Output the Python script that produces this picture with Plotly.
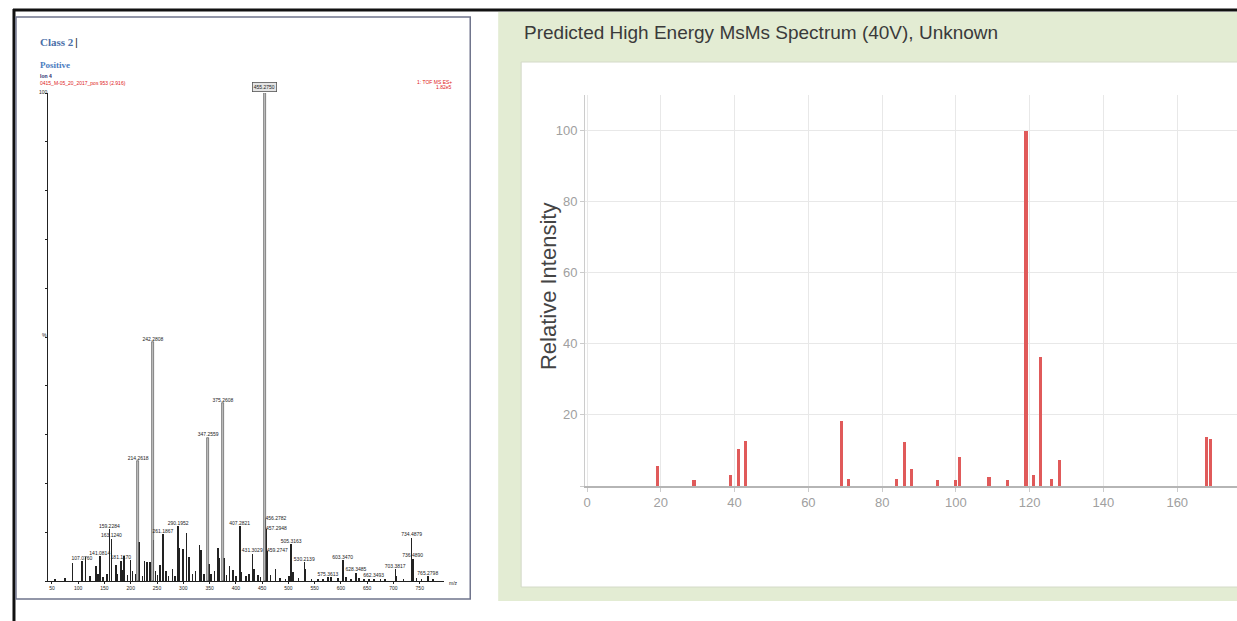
import plotly.graph_objects as go

W, H = 1237, 621


def fx(px):
    return px / W


def fy(py):
    return 1 - py / H


# ---------------- Left panel: measured spectrum (Class 2, Positive) ----------------
obs_label_mz = [107.08, 141.08, 159.23, 163.12, 181.12, 214.26, 242.28, 261.19, 290.20,
                347.26, 375.26, 407.28, 431.30, 455.28, 456.28, 457.29, 459.27, 505.32,
                530.21, 575.36, 603.35, 628.35, 662.35, 703.38, 734.49, 736.49, 765.28]
obs_label_int = [4.1, 5.1, 10.6, 8.7, 4.2, 24.6, 49.0, 9.6, 11.3,
                 29.4, 36.5, 11.3, 5.6, 100.0, 12.8, 10.7, 6.1, 7.5,
                 3.8, 0.8, 4.3, 1.7, 0.5, 2.5, 8.9, 4.6, 1.0]
obs_label_text = ["107.0760", "141.0814", "159.2284", "163.1240", "181.1170", "214.2618",
                  "242.2808", "261.1867", "290.1952", "347.2559", "375.2608", "407.2821",
                  "431.3029", "455.2750", "456.2782", "457.2948", "459.2747", "505.3163",
                  "530.2139", "575.3613", "603.3470", "628.3485", "662.3493", "703.3817",
                  "734.4879", "736.4890", "765.2798"]

obs_mz = [56, 75, 89, 114, 122, 134, 137.5, 147, 155, 172, 175, 184, 187.5, 194, 199, 203,
          209, 215.3, 222, 226, 231, 236, 243.3, 247, 251, 256, 267, 272, 279, 284, 292.5,
          299, 306, 311, 317.5, 323, 331, 334, 339, 349, 353, 359, 366, 369, 377, 382.5,
          387.5, 394, 400, 411, 419, 425, 434, 442.5, 447, 466, 475, 484, 494, 501, 509,
          519, 532, 544, 556, 566, 581, 594, 609, 619, 634, 644, 653, 675, 684, 706, 719,
          744, 753, 775]
obs_int = [0.3, 0.7, 3.6, 5.0, 1.0, 3.0, 1.5, 0.8, 1.5, 3.3, 1.5, 2.2, 5.1, 1.2, 4.3, 2.0,
           1.5, 8.0, 1.0, 4.0, 3.9, 3.8, 8.4, 2.0, 1.2, 3.3, 2.0, 1.0, 2.4, 1.0, 6.8,
           6.5, 9.8, 5.0, 1.5, 2.0, 7.4, 6.4, 1.5, 3.5, 1.5, 2.0, 6.7, 4.8, 4.8, 1.2,
           3.0, 2.3, 1.0, 1.8, 1.0, 1.5, 2.5, 1.2, 0.8, 1.2, 2.5, 0.7, 0.5, 1.0, 1.8,
           0.6, 2.5, 0.5, 0.4, 0.4, 0.9, 0.6, 0.9, 0.4, 0.6, 0.3, 0.5, 0.4, 0.3, 1.1, 0.4,
           0.6, 0.4, 0.3]

obs_xticks = [50, 100, 150, 200, 250, 300, 350, 400, 450, 500, 550, 600, 650, 700, 750]

# ---------------- Right panel: predicted MsMs spectrum ----------------
pred_mz = [19, 29, 39, 41, 43, 69, 71, 84, 86, 88, 95, 100, 101, 109, 114, 119, 121, 123,
           126, 128, 168, 169]
pred_int = [5.6, 1.7, 3.0, 10.5, 12.6, 18.4, 2.0, 1.9, 12.5, 4.9, 1.7, 1.7, 8.2, 2.5, 1.7,
            100.0, 3.0, 36.2, 2.0, 7.2, 13.8, 13.1]

pred_xticks = [0, 20, 40, 60, 80, 100, 120, 140, 160]
pred_yticks = [0, 20, 40, 60, 80, 100]
pred_yticktext = ["", "20", "40", "60", "80", "100"]

SANS = "Arial, Liberation Sans, sans-serif"

fig = go.Figure()

# Left: all small peaks + labelled peaks as thin sticks
minor_x = obs_mz + [m for m, v in zip(obs_label_mz, obs_label_int) if v < 20]
minor_y = obs_int + [v for v in obs_label_int if v < 20]
fig.add_trace(go.Bar(x=minor_x, y=minor_y, width=1.1, marker=dict(color="#222222", line=dict(width=0)),
                     xaxis="x", yaxis="y", showlegend=False, hoverinfo="skip"))
major_x = [m for m, v in zip(obs_label_mz, obs_label_int) if v >= 20]
major_y = [v for v in obs_label_int if v >= 20]
fig.add_trace(go.Bar(x=major_x, y=major_y, width=4.0,
                     marker=dict(color="#c4c4c4", line=dict(color="#444444", width=0.6)),
                     xaxis="x", yaxis="y", showlegend=False, hoverinfo="skip"))

base_idx = obs_label_int.index(max(obs_label_int))
lab_x, lab_y, lab_t, lab_pos = [], [], [], []
for i, (m, v, t) in enumerate(zip(obs_label_mz, obs_label_int, obs_label_text)):
    if i == base_idx:
        continue
    lab_x.append(m)
    lab_y.append(v)
    lab_t.append(t)
    near_base = abs(m - obs_label_mz[base_idx]) < 6
    lab_pos.append("middle right" if near_base else "top center")
fig.add_trace(go.Scatter(x=lab_x, y=lab_y, mode="text", text=lab_t, textposition=lab_pos,
                         textfont=dict(size=5, color="#222222", family="Arial"),
                         xaxis="x", yaxis="y", showlegend=False, hoverinfo="skip"))

# Right: predicted sticks
fig.add_trace(go.Bar(x=pred_mz, y=pred_int, width=0.85, marker=dict(color="#e05a5a", line=dict(width=0)),
                     xaxis="x2", yaxis="y2", showlegend=False, hoverinfo="skip"))

shapes = []
# outer black frame (top and left)
shapes.append(dict(type="line", xref="paper", yref="paper", x0=fx(11), x1=1, y0=fy(10), y1=fy(10),
                   line=dict(color="#111111", width=3), layer="below"))
shapes.append(dict(type="line", xref="paper", yref="paper", x0=fx(12), x1=fx(12), y0=fy(9), y1=0,
                   line=dict(color="#111111", width=3), layer="below"))
# left panel frame
shapes.append(dict(type="rect", xref="paper", yref="paper", x0=fx(14), x1=fx(469), y0=fy(599), y1=fy(17),
                   line=dict(color="#6f748c", width=1.5), fillcolor="white", layer="below"))
# green panel
shapes.append(dict(type="rect", xref="paper", yref="paper", x0=fx(497), x1=1.01, y0=fy(601), y1=fy(12),
                   line=dict(width=0), fillcolor="#e3ecd3", layer="below"))
shapes.append(dict(type="rect", xref="paper", yref="paper", x0=fx(520), x1=1.01, y0=fy(587), y1=fy(62),
                   line=dict(color="#d4dac8", width=1), fillcolor="white", layer="below"))

annotations = []
# left header texts
annotations.append(dict(text="<b>Class 2</b>", x=fx(36), y=fy(42), xref="paper", yref="paper",
                        xanchor="left", yanchor="middle", showarrow=False,
                        font=dict(family="Liberation Serif, DejaVu Serif, serif", size=11, color="#4a6fa8")))
annotations.append(dict(text="|", x=fx(71), y=fy(42), xref="paper", yref="paper",
                        xanchor="left", yanchor="middle", showarrow=False,
                        font=dict(family="Arial", size=11, color="#333333")))
annotations.append(dict(text="<b>Positive</b>", x=fx(36), y=fy(65), xref="paper", yref="paper",
                        xanchor="left", yanchor="middle", showarrow=False,
                        font=dict(family="Liberation Serif, DejaVu Serif, serif", size=9, color="#4a7cc0")))
annotations.append(dict(text="<b>Ion 4</b>", x=fx(36), y=fy(76), xref="paper", yref="paper",
                        xanchor="left", yanchor="middle", showarrow=False,
                        font=dict(family="Arial", size=5, color="#1f2a6e")))
annotations.append(dict(text="0415_M-05_20_2017_pos 953 (2.916)", x=fx(36), y=fy(82.5), xref="paper",
                        yref="paper", xanchor="left", yanchor="middle", showarrow=False,
                        font=dict(family="Arial", size=5, color="#e02020")))
annotations.append(dict(text="1: TOF MS ES+", x=fx(453), y=fy(81.5), xref="paper", yref="paper",
                        xanchor="right", yanchor="middle", showarrow=False,
                        font=dict(family="Arial", size=5, color="#e02020")))
annotations.append(dict(text="1.82e5", x=fx(453), y=fy(87), xref="paper", yref="paper",
                        xanchor="right", yanchor="middle", showarrow=False,
                        font=dict(family="Arial", size=5, color="#e02020")))
annotations.append(dict(text="100", x=fx(48), y=fy(92), xref="paper", yref="paper",
                        xanchor="right", yanchor="middle", showarrow=False,
                        font=dict(family="Arial", size=5, color="#222222")))
annotations.append(dict(text="%", x=fx(47), y=fy(335), xref="paper", yref="paper",
                        xanchor="right", yanchor="middle", showarrow=False,
                        font=dict(family="Arial", size=5, color="#222222")))
annotations.append(dict(text="m/z", x=fx(446), y=fy(583), xref="paper", yref="paper",
                        xanchor="left", yanchor="middle", showarrow=False,
                        font=dict(family="Arial", size=5, color="#222222")))
# base peak boxed label
annotations.append(dict(text=obs_label_text[base_idx], x=obs_label_mz[base_idx], y=obs_label_int[base_idx],
                        xref="x", yref="y", xanchor="center", yanchor="bottom", showarrow=False,
                        yshift=1, bgcolor="#e4e4e4", bordercolor="#555555", borderwidth=0.8, borderpad=1,
                        font=dict(family="Arial", size=5, color="#222222")))

# right panel texts
annotations.append(dict(text="Predicted High Energy MsMs Spectrum (40V), Unknown", x=fx(521), y=fy(32),
                        xref="paper", yref="paper", xanchor="left", yanchor="middle", showarrow=False,
                        font=dict(family=SANS, size=19, color="#3a3a3a")))
annotations.append(dict(text="Relative Intensity", x=fx(547), y=fy(286), xref="paper", yref="paper",
                        xanchor="center", yanchor="middle", textangle=-90, showarrow=False,
                        font=dict(family=SANS, size=22, color="#444444")))

fig.update_layout(
    width=W, height=H, autosize=False,
    margin=dict(l=0, r=0, t=0, b=0),
    paper_bgcolor="white", plot_bgcolor="rgba(0,0,0,0)",
    barmode="overlay", bargap=0,
    shapes=shapes, annotations=annotations,
    xaxis=dict(domain=[fx(46), fx(443)], range=[42.4, 796.7], anchor="y",
               showline=True, linecolor="#222222", linewidth=1, showgrid=False, zeroline=False,
               tickvals=obs_xticks, ticks="outside", ticklen=2, tickcolor="#222222",
               tickfont=dict(size=5, color="#222222", family="Arial")),
    yaxis=dict(domain=[fy(581), fy(93)], range=[0, 100], anchor="x",
               showline=True, linecolor="#222222", linewidth=1, showgrid=False, zeroline=False,
               tickvals=[0, 10, 20, 30, 40, 50, 60, 70, 80, 90, 100], ticks="outside", ticklen=2,
               tickcolor="#222222", showticklabels=False),
    xaxis2=dict(domain=[fx(584), 1.0], range=[-0.54, 176.2], anchor="y2",
                showline=True, linecolor="#b5b5b5", linewidth=1.5, showgrid=True, gridcolor="#e8e8e8",
                zeroline=False, tickvals=pred_xticks, ticks="outside", ticklen=4, tickcolor="#cccccc",
                tickfont=dict(size=13, color="#a0a0a0", family=SANS)),
    yaxis2=dict(domain=[fy(486), fy(95)], range=[0, 110], anchor="x2",
                showline=True, linecolor="#cccccc", linewidth=1, showgrid=True, gridcolor="#e8e8e8",
                zeroline=False, tickvals=pred_yticks, ticktext=pred_yticktext, ticks="outside",
                ticklen=4, tickcolor="#cccccc",
                tickfont=dict(size=13, color="#a0a0a0", family=SANS)),
)

fig.write_html("out.html", config={"displayModeBar": False},
               post_script="document.body.style.margin='0px';document.body.style.padding='0px';")
